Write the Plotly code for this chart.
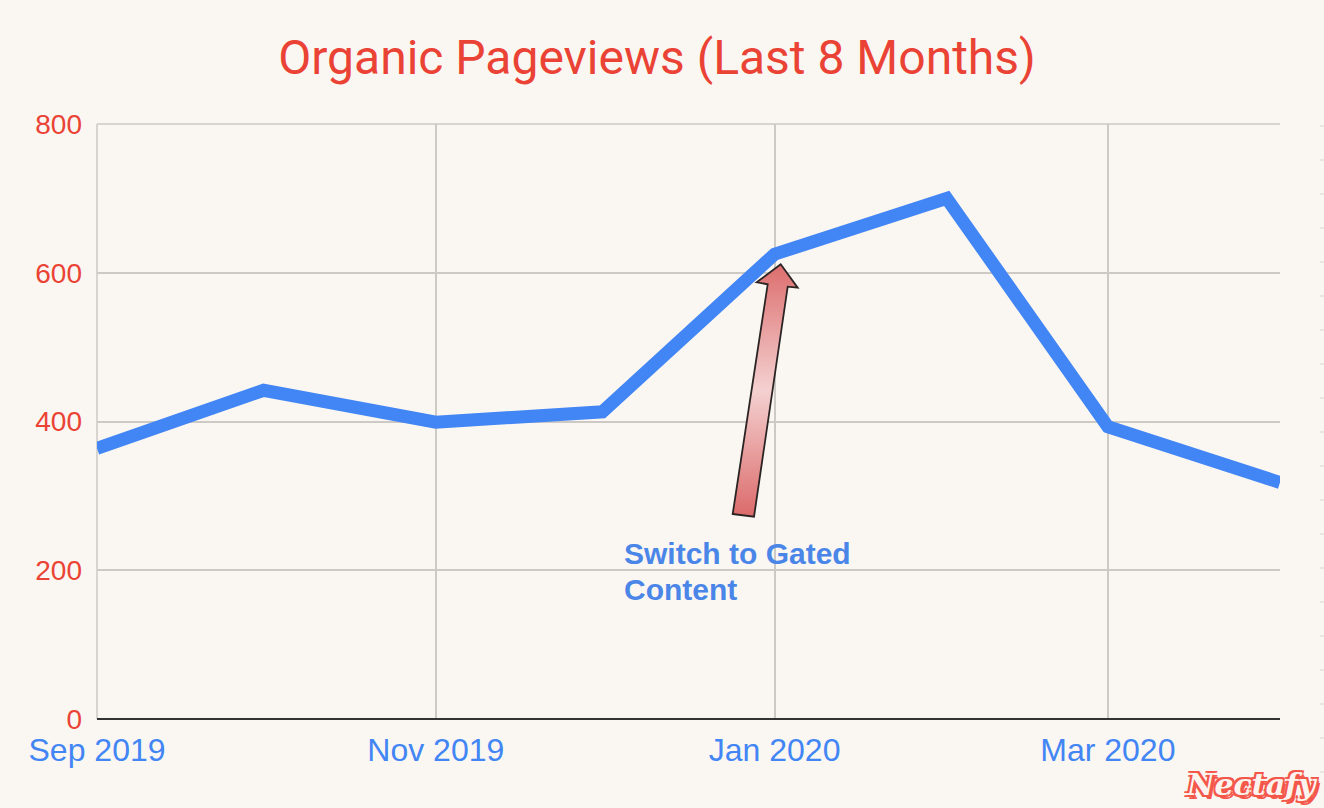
import base64
import plotly.graph_objects as go

months = ["2019-09-01", "2019-10-01", "2019-11-01", "2019-12-01",
          "2020-01-01", "2020-02-01", "2020-03-01", "2020-04-01"]
pageviews = [364, 442, 399, 413, 625, 700, 393, 318]
y_ticks = [0, 200, 400, 600, 800]
x_ticks = ["2019-09-01", "2019-11-01", "2020-01-01", "2020-03-01"]
x_tick_labels = ["Sep 2019", "Nov 2019", "Jan 2020", "Mar 2020"]
title_text = "Organic Pageviews (Last 8 Months)"
note_lines = ["Switch to Gated", "Content"]
logo_text = "Nectafy"

W, H = 1324, 808
L, R, T, B = 97, 1280, 124, 719
BG = "#faf7f2"
RED = "#ea4335"
BLUE = "#4285f4"
GRID = "#cdcac5"


def px(x):
    return (x - L) / (R - L)


def py(y):
    return (B - y) / (B - T)


# gradient arrow drawn as an inline SVG picture (box origin 720,255)
box = (720, 255, 90, 270)
pts = [(732.7, 514), (754, 516.7), (787.7, 286.7), (797.7, 287.7),
       (780.7, 264.3), (756.7, 282.3), (767.7, 284.3)]
poly = " ".join(f"{x - box[0]:.1f},{y - box[1]:.1f}" for x, y in pts)
svg = f'''<svg xmlns="http://www.w3.org/2000/svg" width="{box[2]}" height="{box[3]}" viewBox="0 0 {box[2]} {box[3]}">
<defs><linearGradient id="g" x1="0" y1="0" x2="0" y2="1">
<stop offset="0" stop-color="#dd6e6e"/><stop offset="0.5" stop-color="#f4d0d0"/><stop offset="1" stop-color="#dc6a6a"/>
</linearGradient></defs>
<polygon points="{poly}" fill="url(#g)" stroke="#2b2424" stroke-width="1.8"/></svg>'''
src = "data:image/svg+xml;base64," + base64.b64encode(svg.encode()).decode()

fig = go.Figure(go.Scatter(
    x=months, y=pageviews, mode="lines",
    line=dict(color=BLUE, width=13, shape="linear"),
    hoverinfo="x+y", showlegend=False,
))

# faint tick dashes along the right page edge
edge = [dict(type="line", xref="paper", yref="paper",
             x0=px(1320), x1=px(1324), y0=py(v), y1=py(v),
             line=dict(color="#e2e0dc", width=1.5))
        for v in range(126, 790, 34)]
frame = [
    dict(type="line", xref="paper", yref="paper", layer="below",
         x0=0, x1=1, y0=1, y1=1, line=dict(color=GRID, width=1.5)),
    dict(type="line", xref="paper", yref="paper", layer="below",
         x0=0, x1=0, y0=0, y1=1, line=dict(color=GRID, width=1.5)),
]

note_font = dict(size=30, color="#4a86e8", weight="bold", family="Liberation Sans")

fig.update_layout(
    width=W, height=H, autosize=False,
    margin=dict(l=L, r=W - R, t=T, b=H - B, pad=0),
    paper_bgcolor=BG, plot_bgcolor=BG,
    font=dict(family="Liberation Sans, Arial, sans-serif"),
    title=dict(text=title_text, x=(280 + 1034) / 2 / W, xanchor="center",
               y=1 - 57 / H, yanchor="middle",
               font=dict(family="Roboto", size=48, color=RED)),
    xaxis=dict(type="date", range=[months[0], months[-1]],
               tickmode="array", tickvals=x_ticks, ticktext=x_tick_labels,
               showgrid=True, gridcolor=GRID, gridwidth=1.5,
               zeroline=False, ticks="", showline=False, ticklabelstandoff=9,
               tickfont=dict(size=32, color=BLUE)),
    yaxis=dict(range=[0, 800], tickmode="array", tickvals=y_ticks,
               showgrid=True, gridcolor=GRID, gridwidth=1.5,
               zeroline=True, zerolinecolor="#333333", zerolinewidth=1.5,
               ticks="", showline=False, ticklabelstandoff=14,
               tickfont=dict(size=28, color=RED)),
    images=[dict(source=src, xref="paper", yref="paper",
                 x=px(box[0]), y=py(box[1]),
                 sizex=box[2] / (R - L), sizey=box[3] / (B - T),
                 xanchor="left", yanchor="top", sizing="stretch", layer="above")],
    shapes=edge + frame,
    annotations=[
        dict(text=note_lines[0], xref="paper", yref="paper", x=px(622), y=py(553),
             xanchor="left", yanchor="middle", align="left", showarrow=False,
             font=note_font),
        dict(text=note_lines[1], xref="paper", yref="paper", x=px(622), y=py(589),
             xanchor="left", yanchor="middle", align="left", showarrow=False,
             font=note_font),
        dict(text=logo_text, xref="paper", yref="paper", x=px(1252), y=py(784),
             xanchor="center", yanchor="middle", showarrow=False,
             font=dict(size=30, color="#fbf3ee", weight="bold", style="italic",
                       family="DejaVu Serif",
                       shadow="2px 2px 0 #f4574a, -2px -2px 0 #f4574a, 2px -2px 0 #f4574a, -2px 2px 0 #f4574a, 3px 4px 0 #f4574a")),
    ],
)

fig.write_html("out.html", config={"displayModeBar": False},
               post_script="document.body.style.margin='0';document.body.style.background='" + BG + "';")
